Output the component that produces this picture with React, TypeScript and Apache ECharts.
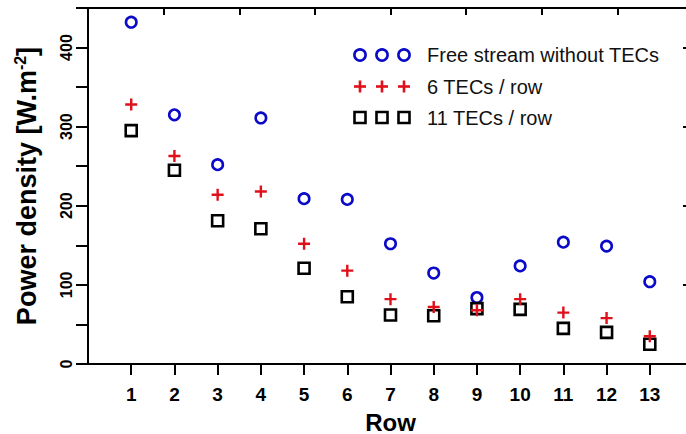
import React, { useEffect, useRef } from "react";
import * as echarts from "echarts";

const rows = [1, 2, 3, 4, 5, 6, 7, 8, 9, 10, 11, 12, 13];
const freeStream = [432, 315, 252, 311, 209, 208, 152, 115, 84, 124, 154, 149, 104];
const tec6 = [328, 263, 214, 218, 152, 118, 82, 72, 68, 82, 65, 58, 35];
const tec11 = [295, 245, 181, 171, 121, 85, 62, 61, 70, 69, 45, 40, 25];
const yTicks = [0, 50, 100, 150, 200, 250, 300, 350, 400, 450];
const legendNames = ["Free stream without TECs", "6 TECs / row", "11 TECs / row"];

const FONT = '"Liberation Sans", Arial, Helvetica, sans-serif';
const BLUE = "#0a0ac8";
const RED = "#e0101a";
const PLUS = "path://M4 0H6V4H10V6H6V10H4V6H0V4H4Z";

export default function App() {
  const ref = useRef<HTMLDivElement>(null);
  useEffect(() => {
    document.body.style.margin = "0";
    const chart = echarts.init(ref.current!, null, { renderer: "svg" });
    const pts = (vals: number[]) => rows.map((r, i) => [r, vals[i]]);
    const lx = [360, 382, 404];
    const ly = [55, 86.5, 117.5];
    const graphics: any[] = [];
    lx.forEach((x) => {
      graphics.push({ type: "circle", shape: { cx: x, cy: ly[0], r: 5.6 }, style: { fill: "none", stroke: BLUE, lineWidth: 2.6 } });
      graphics.push({ type: "rect", shape: { x: x - 6, y: ly[1] - 1.3, width: 12, height: 2.6 }, style: { fill: RED } });
      graphics.push({ type: "rect", shape: { x: x - 1.3, y: ly[1] - 6, width: 2.6, height: 12 }, style: { fill: RED } });
      graphics.push({ type: "rect", shape: { x: x - 5.5, y: ly[2] - 5.5, width: 11, height: 11 }, style: { fill: "none", stroke: "#000", lineWidth: 2.6 } });
    });
    legendNames.forEach((n, i) => {
      graphics.push({ type: "text", x: 427, y: ly[i], style: { text: n, font: `20px ${FONT}`, fill: "#111", verticalAlign: "middle", textAlign: "left" } });
    });
    chart.setOption({
      animation: false,
      backgroundColor: "#fff",
      grid: { left: 88, right: -7, top: 8, bottom: 70, containLabel: false, outerBoundsMode: "none" },
      xAxis: [
        {
          type: "value", position: "bottom", min: 0, max: 14, interval: 1,
          name: "Row", nameLocation: "middle", nameGap: 46,
          nameTextStyle: { fontFamily: FONT, fontWeight: "bold", fontSize: 24, color: "#000" },
          axisLine: { show: true, onZero: false, lineStyle: { color: "#000", width: 2 } },
          axisTick: { show: true, inside: false, length: 11, lineStyle: { color: "#000", width: 2 }, customValues: rows },
          axisLabel: { show: true, margin: 21, fontFamily: FONT, fontWeight: "bold", fontSize: 19, color: "#000", customValues: rows },
          splitLine: { show: false },
        },
        {
          type: "value", position: "top", min: 0, max: 14, interval: 1.75,
          axisLine: { show: true, onZero: false, lineStyle: { color: "#000", width: 2 } },
          axisTick: { show: true, inside: true, length: 7, lineStyle: { color: "#000", width: 2 } },
          axisLabel: { show: false },
          splitLine: { show: false },
        },
      ],
      yAxis: [
        {
          type: "value", position: "left", min: 0, max: 450, interval: 50,
          name: "Power density [W.m{sup|-2}]", nameLocation: "middle", nameGap: 47,
          nameTextStyle: {
            fontFamily: FONT, fontWeight: "bold", fontSize: 27, color: "#000",
            rich: { sup: { fontFamily: FONT, fontWeight: "bold", fontSize: 16, color: "#000", padding: [0, 0, 13, 0] } },
          },
          axisLine: { show: true, onZero: false, lineStyle: { color: "#000", width: 2 } },
          axisTick: { show: true, inside: false, length: 12, lineStyle: { color: "#000", width: 2 }, customValues: yTicks },
          axisLabel: {
            show: true, rotate: 90, margin: 14, fontFamily: FONT, fontWeight: "bold", fontSize: 16, color: "#000",
            formatter: (v: number) => (v % 100 === 0 && v < 450 ? String(v) : ""),
          },
          splitLine: { show: false },
        },
        {
          type: "value", position: "right", min: 0, max: 450, interval: 100,
          axisLine: { show: true, onZero: false, lineStyle: { color: "#000", width: 2 } },
          axisTick: { show: true, inside: true, length: 10, lineStyle: { color: "#000", width: 2 } },
          minorTick: { show: true, splitNumber: 2, length: 7, lineStyle: { color: "#000", width: 2 } },
          axisLabel: { show: false },
          splitLine: { show: false },
        },
      ],
      series: [
        {
          name: legendNames[0], type: "scatter", data: pts(freeStream), symbol: "circle", symbolSize: 10.5,
          itemStyle: { color: "rgba(0,0,0,0)", borderColor: BLUE, borderWidth: 2.6, opacity: 1 }, z: 2,
        },
        {
          name: legendNames[2], type: "scatter", data: pts(tec11), symbol: "rect", symbolSize: 11,
          itemStyle: { color: "rgba(0,0,0,0)", borderColor: "#000", borderWidth: 2.6, opacity: 1 }, z: 3,
        },
        {
          name: legendNames[1], type: "scatter", data: pts(tec6), symbol: PLUS, symbolSize: 12,
          itemStyle: { color: RED, opacity: 1 }, z: 4,
        },
      ],
      graphic: graphics,
    });
    return () => chart.dispose();
  }, []);
  return <div ref={ref} style={{ width: 686, height: 434 }} />;
}
